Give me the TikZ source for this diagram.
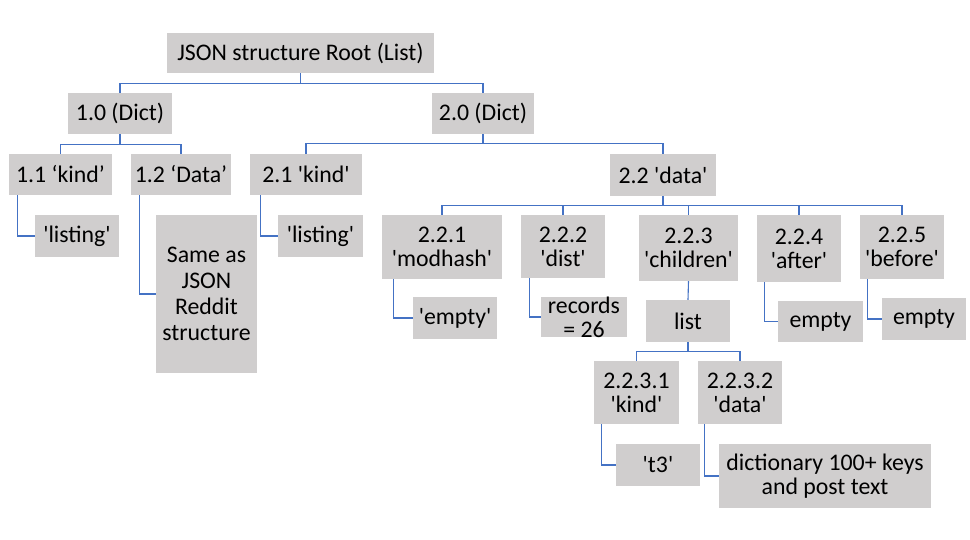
\documentclass[tikz,border=0pt]{standalone}
\usepackage{fontspec}
\newfontfamily\calib{Carlito}
\definecolor{boxgray}{HTML}{D0CECE}
\definecolor{linkblue}{HTML}{4472C4}
\begin{document}
\begin{tikzpicture}[x=1pt,y=-1pt,
  box/.style={fill=boxgray,draw=none,inner sep=0pt,align=center,
    font=\calib\fontsize{23.8pt}{24pt}\selectfont,text=black},
  link/.style={draw=linkblue,line width=1.1pt}]
\useasboundingbox[fill=white] (0,0) rectangle (970,540);
% level 0
\node[box,minimum width=267pt,minimum height=40pt] (root) at (300.5,53) {JSON structure Root (List)};
% level 1
\node[box,minimum width=104pt,minimum height=41pt] (d1) at (120,113.5) {1.0 (Dict)};
\node[box,minimum width=102pt,minimum height=41pt] (d2) at (483,113.5) {2.0 (Dict)};
% level 2
\node[box,minimum width=103pt,minimum height=41pt] (k11) at (60.5,174.5) {1.1 ‘kind’};
\node[box,minimum width=100pt,minimum height=41pt] (d12) at (181,174.5) {1.2 ‘Data’};
\node[box,minimum width=112pt,minimum height=41pt] (k21) at (306,174.5) {2.1 'kind'};
\node[box,minimum width=106pt,minimum height=42pt] (d22) at (663,175) {2.2 'data'};
% level 3
\node[box,minimum width=84pt,minimum height=42pt] (l1) at (77,236) {'listing'};
\node[box,minimum width=101pt,minimum height=158pt,font=\calib\fontsize{23.8pt}{26pt}\selectfont] (same) at (206.5,294) {Same as\\JSON\\Reddit\\structure};
\node[box,minimum width=85pt,minimum height=42pt] (l2) at (320.5,236) {'listing'};
\node[box,minimum width=120pt,minimum height=64pt] (m221) at (442,247) {2.2.1\\'modhash'};
\node[box,minimum width=84pt,minimum height=63pt] (m222) at (563,246.5) {2.2.2\\'dist'};
\node[box,minimum width=99pt,minimum height=66pt] (m223) at (688.5,248) {2.2.3\\'children'};
\node[box,minimum width=84pt,minimum height=67pt] (m224) at (799,248.5) {2.2.4\\'after'};
\node[box,minimum width=84pt,minimum height=64pt] (m225) at (902,247) {2.2.5\\'before'};
% level 4
\node[box,minimum width=84pt,minimum height=42pt] (e1) at (455,318) {'empty'};
\node[box,minimum width=86pt,minimum height=40pt] (rec) at (584,317) {records\\= 26};
\node[box,minimum width=84pt,minimum height=42pt] (lst) at (688,321) {list};
\node[box,minimum width=85pt,minimum height=41pt] (e4) at (820.5,321.5) {empty};
\node[box,minimum width=84pt,minimum height=42pt] (e5) at (924,319) {empty};
% level 5
\node[box,minimum width=85pt,minimum height=63pt] (k2231) at (636.5,392.5) {2.2.3.1\\'kind'};
\node[box,minimum width=84pt,minimum height=63pt] (d2232) at (740,392.5) {2.2.3.2\\'data'};
% level 6
\node[box,minimum width=84pt,minimum height=42pt] (t3) at (658,465) {'t3'};
\node[box,minimum width=212pt,minimum height=64pt] (dict) at (825,476) {dictionary 100+ keys\\and post text};
% tree connectors
\draw[link] (root.south) -- ++(0,10) -| (d1.north);
\draw[link] (root.south) -- ++(0,10) -| (d2.north);
\draw[link] (d1.south) -- ++(0,10) -| (k11.north);
\draw[link] (d1.south) -- ++(0,10) -| (d12.north);
\draw[link] (d2.south) -- ++(0,9.5) -| (k21.north);
\draw[link] (d2.south) -- ++(0,9.5) -| (d22.north);
\foreach \c in {m221,m222,m223,m224,m225}
  \draw[link] (d22.south) -- ++(0,9) -| (\c.north);
\draw[link] (m223.south) -- (lst.north);
\draw[link] (lst.south) -- ++(0,9) -| (k2231.north);
\draw[link] (lst.south) -- ++(0,9) -| (d2232.north);
% elbow connectors
\draw[link] ([xshift=9pt]k11.south west) |- (l1.west);
\draw[link] ([xshift=9pt]d12.south west) |- (same.west);
\draw[link] ([xshift=11pt]k21.south west) |- (l2.west);
\draw[link] ([xshift=12pt]m221.south west) |- (e1.west);
\draw[link] ([xshift=9pt]m222.south west) |- (rec.west);
\draw[link] ([xshift=8pt]m224.south west) |- (e4.west);
\draw[link] ([xshift=8pt]m225.south west) |- (e5.west);
\draw[link] ([xshift=8pt]k2231.south west) |- (t3.west);
\draw[link] ([xshift=7pt]d2232.south west) |- (dict.west);
\end{tikzpicture}
\end{document}
